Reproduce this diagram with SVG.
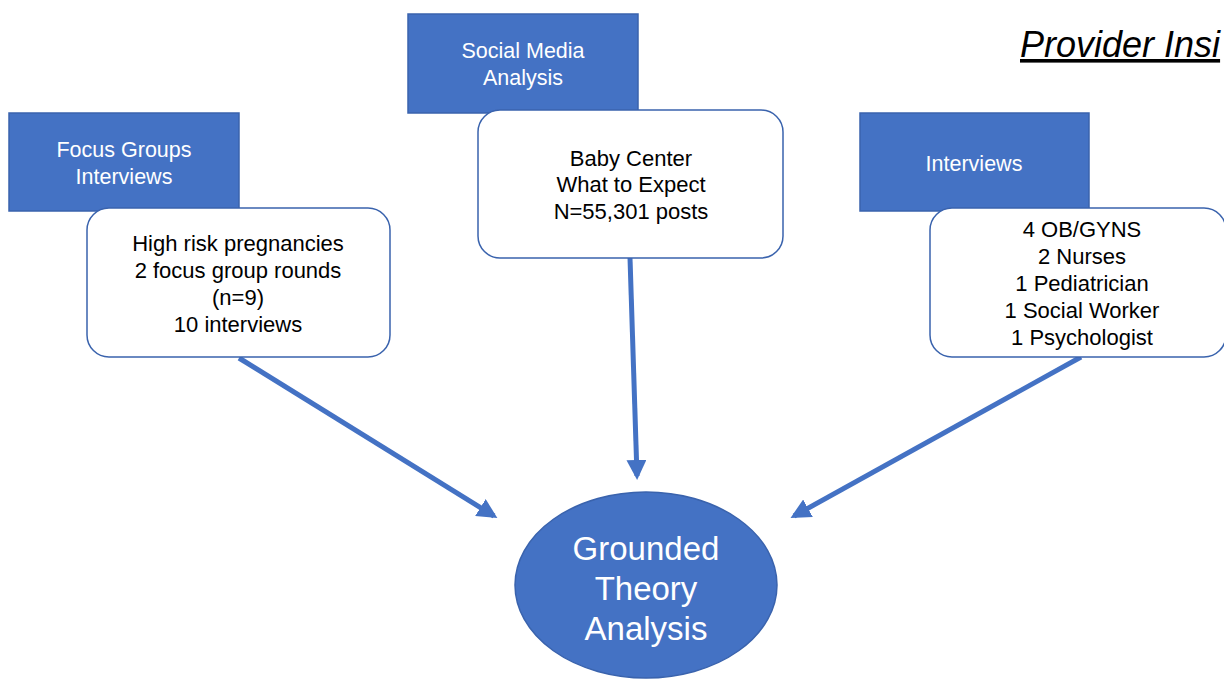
<svg xmlns="http://www.w3.org/2000/svg" width="1224" height="679" viewBox="0 0 1224 679">
<style>
.hdr{fill:#4472C4;stroke:#3A63AD;stroke-width:1.5}
.card{fill:#fff;stroke:#3A63AD;stroke-width:1.5}
.ht{font-family:"Liberation Sans",Arial,sans-serif;font-size:21.5px;fill:#fff;text-anchor:middle}
.ct{font-family:"Liberation Sans",Arial,sans-serif;font-size:22px;fill:#000;text-anchor:middle}
.et{font-family:"Liberation Sans",Arial,sans-serif;font-size:33px;fill:#fff;text-anchor:middle}
.conn{stroke:#4472C4;stroke-width:5;fill:none;marker-end:url(#ah)}
</style>
<defs>
<marker id="ah" viewBox="0 0 10 10" refX="8" refY="5" markerWidth="4" markerHeight="4" orient="auto" markerUnits="strokeWidth">
<path d="M0,0 L10,5 L0,10 z" fill="#4472C4"/>
</marker>
</defs>
<rect width="1224" height="679" fill="#fff"/>
<g id="title">
<text x="1020" y="57" font-family="'Liberation Sans',Arial,sans-serif" font-size="36" font-style="italic" text-decoration="underline" fill="#000">Provider Insi</text>
</g>
<g id="connectors">
<line class="conn" x1="239" y1="358" x2="494" y2="516"/>
<line class="conn" x1="630" y1="258" x2="637" y2="476"/>
<line class="conn" x1="1081" y1="357" x2="794" y2="516"/>
</g>
<g id="focus-groups">
<rect class="hdr" x="9" y="113" width="230" height="98"/>
<text class="ht" x="124" y="157">Focus Groups</text>
<text class="ht" x="124" y="184">Interviews</text>
</g>
<g id="focus-groups-detail">
<rect class="card" x="87" y="208" width="303" height="149" rx="22"/>
<text class="ct" x="238" y="251">High risk pregnancies</text>
<text class="ct" x="238" y="278">2 focus group rounds</text>
<text class="ct" x="238" y="305">(n=9)</text>
<text class="ct" x="238" y="332">10 interviews</text>
</g>
<g id="social-media">
<rect class="hdr" x="408" y="14" width="230" height="99"/>
<text class="ht" x="523" y="58">Social Media</text>
<text class="ht" x="523" y="85">Analysis</text>
</g>
<g id="social-media-detail">
<rect class="card" x="478" y="110" width="305" height="148" rx="22"/>
<text class="ct" x="631" y="166">Baby Center</text>
<text class="ct" x="631" y="192">What to Expect</text>
<text class="ct" x="631" y="219">N=55,301 posts</text>
</g>
<g id="interviews">
<rect class="hdr" x="860" y="113" width="229" height="98"/>
<text class="ht" x="974" y="171">Interviews</text>
</g>
<g id="interviews-detail">
<rect class="card" x="930" y="208" width="296" height="149" rx="22"/>
<text class="ct" x="1082" y="237">4 OB/GYNS</text>
<text class="ct" x="1082" y="264">2 Nurses</text>
<text class="ct" x="1082" y="291">1 Pediatrician</text>
<text class="ct" x="1082" y="318">1 Social Worker</text>
<text class="ct" x="1082" y="345">1 Psychologist</text>
</g>
<g id="grounded-theory">
<ellipse cx="646" cy="585" rx="131" ry="93" fill="#4472C4" stroke="#3A63AD" stroke-width="1.5"/>
<text class="et" x="646" y="560">Grounded</text>
<text class="et" x="646" y="600">Theory</text>
<text class="et" x="646" y="640">Analysis</text>
</g>
</svg>
